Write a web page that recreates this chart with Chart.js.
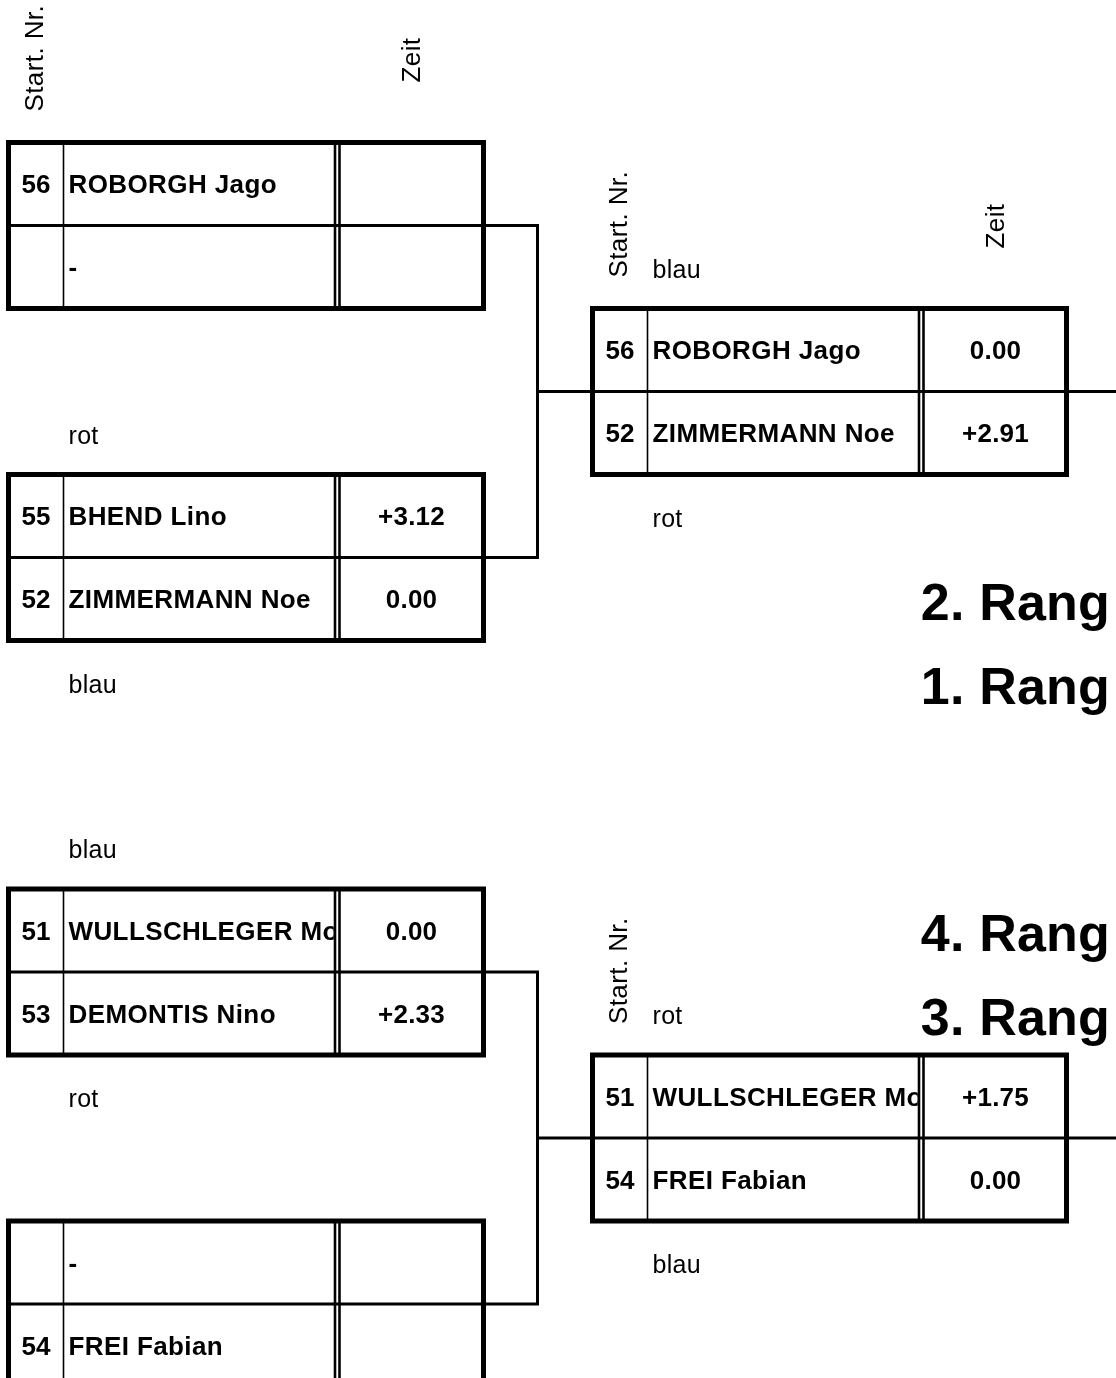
<!DOCTYPE html>
<html>
<head>
<meta charset="utf-8">
<script src="https://cdn.jsdelivr.net/npm/chart.js@4/dist/chart.umd.min.js"></script>
<style>
  html, body { margin: 0; padding: 0; background: #fff; }
  canvas { display: block; }
</style>
</head>
<body>
<canvas id="bracket" width="1116" height="1378"></canvas>
<script>
// Runde 1 (links), je zwei Fahrer pro Lauf
const round1StartNr = ['56', '', '55', '52', '51', '53', '', '54'];
const round1Names = ['ROBORGH Jago', '-', 'BHEND Lino', 'ZIMMERMANN Noe', 'WULLSCHLEGER Mo', 'DEMONTIS Nino', '-', 'FREI Fabian'];
const round1Times = ['', '', '+3.12', '0.00', '0.00', '+2.33', '', ''];
const round1Above = [null, 'rot', 'blau', null];
const round1Below = [null, 'blau', 'rot', null];

// Runde 2 (rechts)
const round2StartNr = ['56', '52', '51', '54'];
const round2Names = ['ROBORGH Jago', 'ZIMMERMANN Noe', 'WULLSCHLEGER Mo', 'FREI Fabian'];
const round2Times = ['0.00', '+2.91', '+1.75', '0.00'];
const round2Above = ['blau', 'rot'];
const round2Below = ['rot', 'blau'];

const rankLabels = ['2. Rang', '1. Rang', '4. Rang', '3. Rang'];
const headerLabels = ['Start. Nr.', 'Zeit'];

// Lage der Kästchen (in Achsen-Einheiten = Pixel)
const layout = {
  boxW: 475, rowH: 83, nrW: 55, dbl1: 326.5, dbl2: 331, timeX: 403,
  leftX: 8.5, leftTops: [142.5, 474.5, 889, 1221],
  rightX: 592.5, rightW: 474, rightTops: [308.5, 1055],
  joinX: 537.5, pageRight: 1116,
  rankX: 1110, rankY: [620, 704, 951, 1035],
  // [Runde, Lauf, mit "Zeit"]
  headerBoxes: [[0, 0, true], [1, 0, true], [1, 1, false]]
};
const FONT = 'Arial, "Liberation Sans", sans-serif';

const bracketPlugin = {
  id: 'bracket',
  afterDraw(chart) {
    const ctx = chart.ctx;
    const X = v => chart.scales.x.getPixelForValue(v);
    const Y = v => chart.scales.y.getPixelForValue(v);
    const L = layout;

    function line(x1, y1, x2, y2, w) {
      ctx.beginPath();
      ctx.lineWidth = w;
      ctx.moveTo(X(x1), Y(y1));
      ctx.lineTo(X(x2), Y(y2));
      ctx.stroke();
    }

    function text(str, x, y, font, align, spacing) {
      ctx.font = font;
      ctx.letterSpacing = (spacing || 0) + 'px';
      ctx.textAlign = align;
      ctx.textBaseline = 'alphabetic';
      ctx.fillText(str, X(x), Y(y));
      ctx.letterSpacing = '0px';
    }

    function vtext(str, x, y) {
      ctx.save();
      ctx.translate(X(x), Y(y));
      ctx.rotate(-Math.PI / 2);
      ctx.font = '26px ' + FONT;
      ctx.letterSpacing = '0.4px';
      ctx.textAlign = 'left';
      ctx.textBaseline = 'alphabetic';
      ctx.fillText(str, 0, 0);
      ctx.restore();
    }

    function box(x, top, w, nrs, names, times, above, below, header) {
      const h = L.rowH * 2;
      ctx.strokeStyle = '#000';
      ctx.fillStyle = '#000';
      line(x, top + L.rowH, x + w, top + L.rowH, 3);
      line(x + L.nrW, top, x + L.nrW, top + h, 1.6);
      line(x + L.dbl1, top, x + L.dbl1, top + h, 2.6);
      line(x + L.dbl2, top, x + L.dbl2, top + h, 2.6);
      ctx.lineWidth = 5;
      ctx.strokeRect(X(x), Y(top), X(x + w) - X(x), Y(top + h) - Y(top));

      const bold = 'bold 26px ' + FONT;
      for (let r = 0; r < 2; r++) {
        const base = top + L.rowH * r + L.rowH / 2 + 9;
        text(nrs[r], x + L.nrW / 2, base, bold, 'center', 0);
        ctx.save();
        ctx.beginPath();
        ctx.rect(X(x + L.nrW + 1), Y(top), X(x + L.dbl1 - 1.3) - X(x + L.nrW + 1), Y(top + h) - Y(top));
        ctx.clip();
        text(names[r], x + L.nrW + 5, base, bold, 'left', 0.4);
        ctx.restore();
        text(times[r], x + L.timeX, base, bold, 'center', 0.2);
      }
      if (above) text(above, x + 60, top - 31, '25px ' + FONT, 'left', 0.3);
      if (below) text(below, x + 60, top + h + 52, '25px ' + FONT, 'left', 0.3);
      if (header) {
        vtext(headerLabels[0], x + 34.5, top - 31);
        if (header[2]) vtext(headerLabels[1], x + 411, top - 60);
      }
    }

    const findHeader = (rd, i) => L.headerBoxes.find(p => p[0] === rd && p[1] === i);

    // Verbindungslinien
    ctx.strokeStyle = '#000';
    for (let k = 0; k < 2; k++) {
      const yA = L.leftTops[k * 2] + L.rowH;
      const yB = L.leftTops[k * 2 + 1] + L.rowH;
      const yR = L.rightTops[k] + L.rowH;
      const xR = L.leftX + L.boxW;
      line(xR, yA, L.joinX + 1.5, yA, 3);
      line(L.joinX, yA, L.joinX, yB, 3);
      line(xR, yB, L.joinX + 1.5, yB, 3);
      line(L.joinX, yR, L.rightX, yR, 3);
      line(L.rightX + L.rightW, yR, L.pageRight, yR, 3);
    }

    // Runde 1
    for (let i = 0; i < 4; i++) {
      box(L.leftX, L.leftTops[i], L.boxW,
        round1StartNr.slice(i * 2, i * 2 + 2),
        round1Names.slice(i * 2, i * 2 + 2),
        round1Times.slice(i * 2, i * 2 + 2),
        round1Above[i], round1Below[i], findHeader(0, i));
    }
    // Runde 2
    for (let i = 0; i < 2; i++) {
      box(L.rightX, L.rightTops[i], L.rightW,
        round2StartNr.slice(i * 2, i * 2 + 2),
        round2Names.slice(i * 2, i * 2 + 2),
        round2Times.slice(i * 2, i * 2 + 2),
        round2Above[i], round2Below[i], findHeader(1, i));
    }

    // Ränge
    ctx.fillStyle = '#000';
    rankLabels.forEach((lbl, i) => text(lbl, L.rankX, L.rankY[i], 'bold 52px ' + FONT, 'right', 0.2));
  }
};

new Chart(document.getElementById('bracket').getContext('2d'), {
  type: 'scatter',
  data: { datasets: [] },
  options: {
    responsive: false,
    animation: false,
    events: [],
    layout: { padding: 0 },
    plugins: { legend: { display: false }, tooltip: { enabled: false } },
    scales: {
      x: { type: 'linear', min: 0, max: 1116, display: false },
      y: { type: 'linear', min: 0, max: 1378, reverse: true, display: false }
    }
  },
  plugins: [bracketPlugin]
});
</script>
</body>
</html>
